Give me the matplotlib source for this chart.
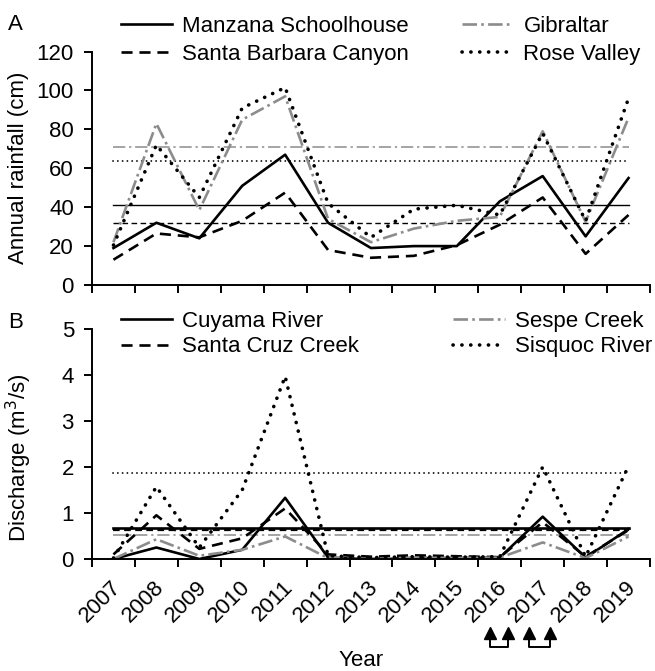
import numpy as np
import matplotlib
matplotlib.use("Agg")
import matplotlib.pyplot as plt
import matplotlib.transforms as mtransforms

plt.rcParams['font.family'] = ['Liberation Sans', 'DejaVu Sans']

# ---------------- data ----------------
years = ["2007", "2008", "2009", "2010", "2011", "2012", "2013",
         "2014", "2015", "2016", "2017", "2018", "2019"]

# Panel A: annual rainfall (cm)
rain_manzana = [19, 32, 24, 51, 67, 32, 19, 20, 20, 43, 56, 25, 55]
rain_sbc = [13, 26.5, 24.5, 33, 47.5, 18, 14, 15, 20.5, 31, 45, 16, 36]
rain_gibraltar = [22, 83, 38.5, 85, 97, 34, 22, 29, 33, 35, 79, 32.5, 86]
rain_rose = [20.5, 72, 45, 91, 101.5, 42, 24.5, 39, 41, 36, 78, 33, 96]
rain_means = {"Manzana Schoolhouse": 41.1, "Santa Barbara Canyon": 32,
              "Gibraltar": 71.1, "Rose Valley": 64}

# Panel B: discharge (m3/s)
q_cuyama = [0.0, 0.25, 0.0, 0.2, 1.33, 0.03, 0.0, 0.02, 0.02, 0.03, 0.92, 0.03, 0.65]
q_santacruz = [0.1, 0.95, 0.22, 0.45, 1.1, 0.1, 0.05, 0.08, 0.06, 0.04, 0.8, 0.05, 0.63]
q_sespe = [0.0, 0.43, 0.07, 0.2, 0.49, 0.02, 0.0, 0.03, 0.02, 0.03, 0.36, 0.02, 0.49]
q_sisquoc = [0.02, 1.57, 0.25, 1.5, 3.97, 0.07, 0.03, 0.05, 0.04, 0.05, 2.0, 0.05, 2.02]
q_means = {"Cuyama River": 0.67, "Santa Cruz Creek": 0.64,
           "Sespe Creek": 0.52, "Sisquoc River": 1.87}

# arrow markers under the x axis
arrow_years = ["2016", "2017"]

# ---------------- styles ----------------
GRAY = '#8c8c8c'
FS = 16
sty = {
    'solid': dict(color='black', ls='-', lw=1.9),
    'dashed': dict(color='black', ls=(0, (4.2, 2.6)), lw=1.9),
    'dashdot': dict(color=GRAY, ls=(0, (5.5, 1.6, 1.0, 1.6)), lw=1.9),
    'dotted': dict(color='black', ls=(0, (0.05, 2.4)), lw=2.6,
                   dash_capstyle='round'),
}
mean_sty_A = {
    'solid': dict(color='black', ls='-', lw=1.0),
    'dashed': dict(color='black', ls=(0, (4, 2.5)), lw=1.0),
    'dashdot': dict(color=GRAY, ls=(0, (8, 2.5, 1.5, 2.5)), lw=1.1),
    'dotted': dict(color='black', ls=(0, (0.05, 2.6)), lw=1.3,
                   dash_capstyle='round'),
}
mean_sty_B = {
    'solid': dict(color='black', ls='-', lw=1.9),
    'dashed': dict(color='black', ls=(0, (3, 2)), lw=1.6),
    'dashdot': dict(color=GRAY, ls=(0, (8, 2.5, 1.5, 2.5)), lw=1.1),
    'dotted': dict(color='black', ls=(0, (0.05, 2.6)), lw=1.3,
                   dash_capstyle='round'),
}

W, H = 655, 671
fig = plt.figure(figsize=(W / 100, H / 100), dpi=100)


def rect(l, r, t, b):
    return [l / W, 1 - b / H, (r - l) / W, (b - t) / H]


axA = fig.add_axes(rect(92, 650, 51.6, 285))
axB = fig.add_axes(rect(92, 650, 329, 559))

x = np.arange(len(years))


def style_axis(ax, ymax, ystep, show_labels):
    ax.set_xlim(-0.5, len(years) - 0.5)
    ax.set_ylim(0, ymax)
    ax.set_yticks(np.arange(0, ymax + ystep / 2, ystep))
    for s in ['top', 'right']:
        ax.spines[s].set_visible(False)
    for s in ['left', 'bottom']:
        ax.spines[s].set_linewidth(1.4)
    ax.set_xticks(np.arange(-0.5, len(years), 1))
    ax.tick_params(axis='x', which='major', direction='out', length=6,
                   width=1.4, labelbottom=False)
    ax.tick_params(axis='y', direction='out', length=6, width=1.4,
                   labelsize=FS, pad=7)
    if show_labels:
        ax.set_xticks(x, minor=True)
        ax.set_xticklabels(years, minor=True, rotation=45, ha='right',
                           rotation_mode='anchor', fontsize=FS)
        ax.tick_params(axis='x', which='minor', length=0, pad=13)
        shift = mtransforms.ScaledTranslation(-3 / 100, 0, fig.dpi_scale_trans)
        for lbl in ax.get_xticklabels(minor=True):
            lbl.set_transform(lbl.get_transform() + shift)


style_axis(axA, 120, 20, False)
style_axis(axB, 5, 1, True)


def mean_line(ax, value, st):
    ax.plot([x[0], x[-1]], [value, value], **st)


seriesA = [("Manzana Schoolhouse", rain_manzana, 'solid'),
           ("Santa Barbara Canyon", rain_sbc, 'dashed'),
           ("Gibraltar", rain_gibraltar, 'dashdot'),
           ("Rose Valley", rain_rose, 'dotted')]
for name, vals, st in seriesA:
    mean_line(axA, rain_means[name], mean_sty_A[st])
handlesA = []
for name, vals, st in seriesA:
    h, = axA.plot(x, vals, label=name, **sty[st])
    handlesA.append(h)

seriesB = [("Cuyama River", q_cuyama, 'solid'),
           ("Santa Cruz Creek", q_santacruz, 'dashed'),
           ("Sespe Creek", q_sespe, 'dashdot'),
           ("Sisquoc River", q_sisquoc, 'dotted')]
for name, vals, st in seriesB:
    mean_line(axB, q_means[name], mean_sty_B[st])
handlesB = []
for name, vals, st in seriesB:
    h, = axB.plot(x, vals, label=name, **sty[st])
    handlesB.append(h)

axA.set_ylabel("Annual rainfall (cm)", fontsize=FS, va='center')
axB.set_ylabel("Discharge (m$^3$/s)", fontsize=FS, va='center')
axA.yaxis.set_label_coords(-(92 - 19) / 558, 0.5)
axB.yaxis.set_label_coords(-(92 - 19) / 558, 0.44)
axB.set_xlabel("Year", fontsize=FS)
axB.xaxis.set_label_coords((361 - 92) / 558, -(661 - 559) / 230)
axB.xaxis.label.set_va('center')

fig.text(8 / W, 1 - 24 / H, "A", fontsize=FS, va='center', ha='left')
fig.text(8 / W, 1 - 322 / H, "B", fontsize=FS, va='center', ha='left')

legkw = dict(ncol=2, frameon=False, fontsize=FS, handlelength=2.3,
             handletextpad=0.45, borderpad=0,
             borderaxespad=0, loc='upper left', bbox_transform=fig.transFigure)
axA.legend(handles=handlesA, columnspacing=2.4, labelspacing=0.3,
           bbox_to_anchor=(121 / W, 1 - 16 / H), **legkw)
axB.legend(handles=handlesB, columnspacing=4.25, labelspacing=0.2,
           bbox_to_anchor=(121 / W, 1 - 311 / H), **legkw)

# arrows below 2016 and 2017
trans = mtransforms.blended_transform_factory(axB.transData, axB.transAxes)
y_head = -(633 - 559) / 230
y_bot = -(647 - 559) / 230
offsets = {"2016": (-0.22, 0.2), "2017": (-0.32, 0.16)}
for yr in arrow_years:
    i = years.index(yr)
    a, b = i + offsets[yr][0], i + offsets[yr][1]
    axB.plot([a, a, b, b], [y_head, y_bot, y_bot, y_head], color='black',
             lw=1.4, transform=trans, clip_on=False)
    axB.plot([a, b], [y_head, y_head], ls='none', marker='^', ms=8,
             color='black', transform=trans, clip_on=False)

fig.savefig("out.png", dpi=100)
